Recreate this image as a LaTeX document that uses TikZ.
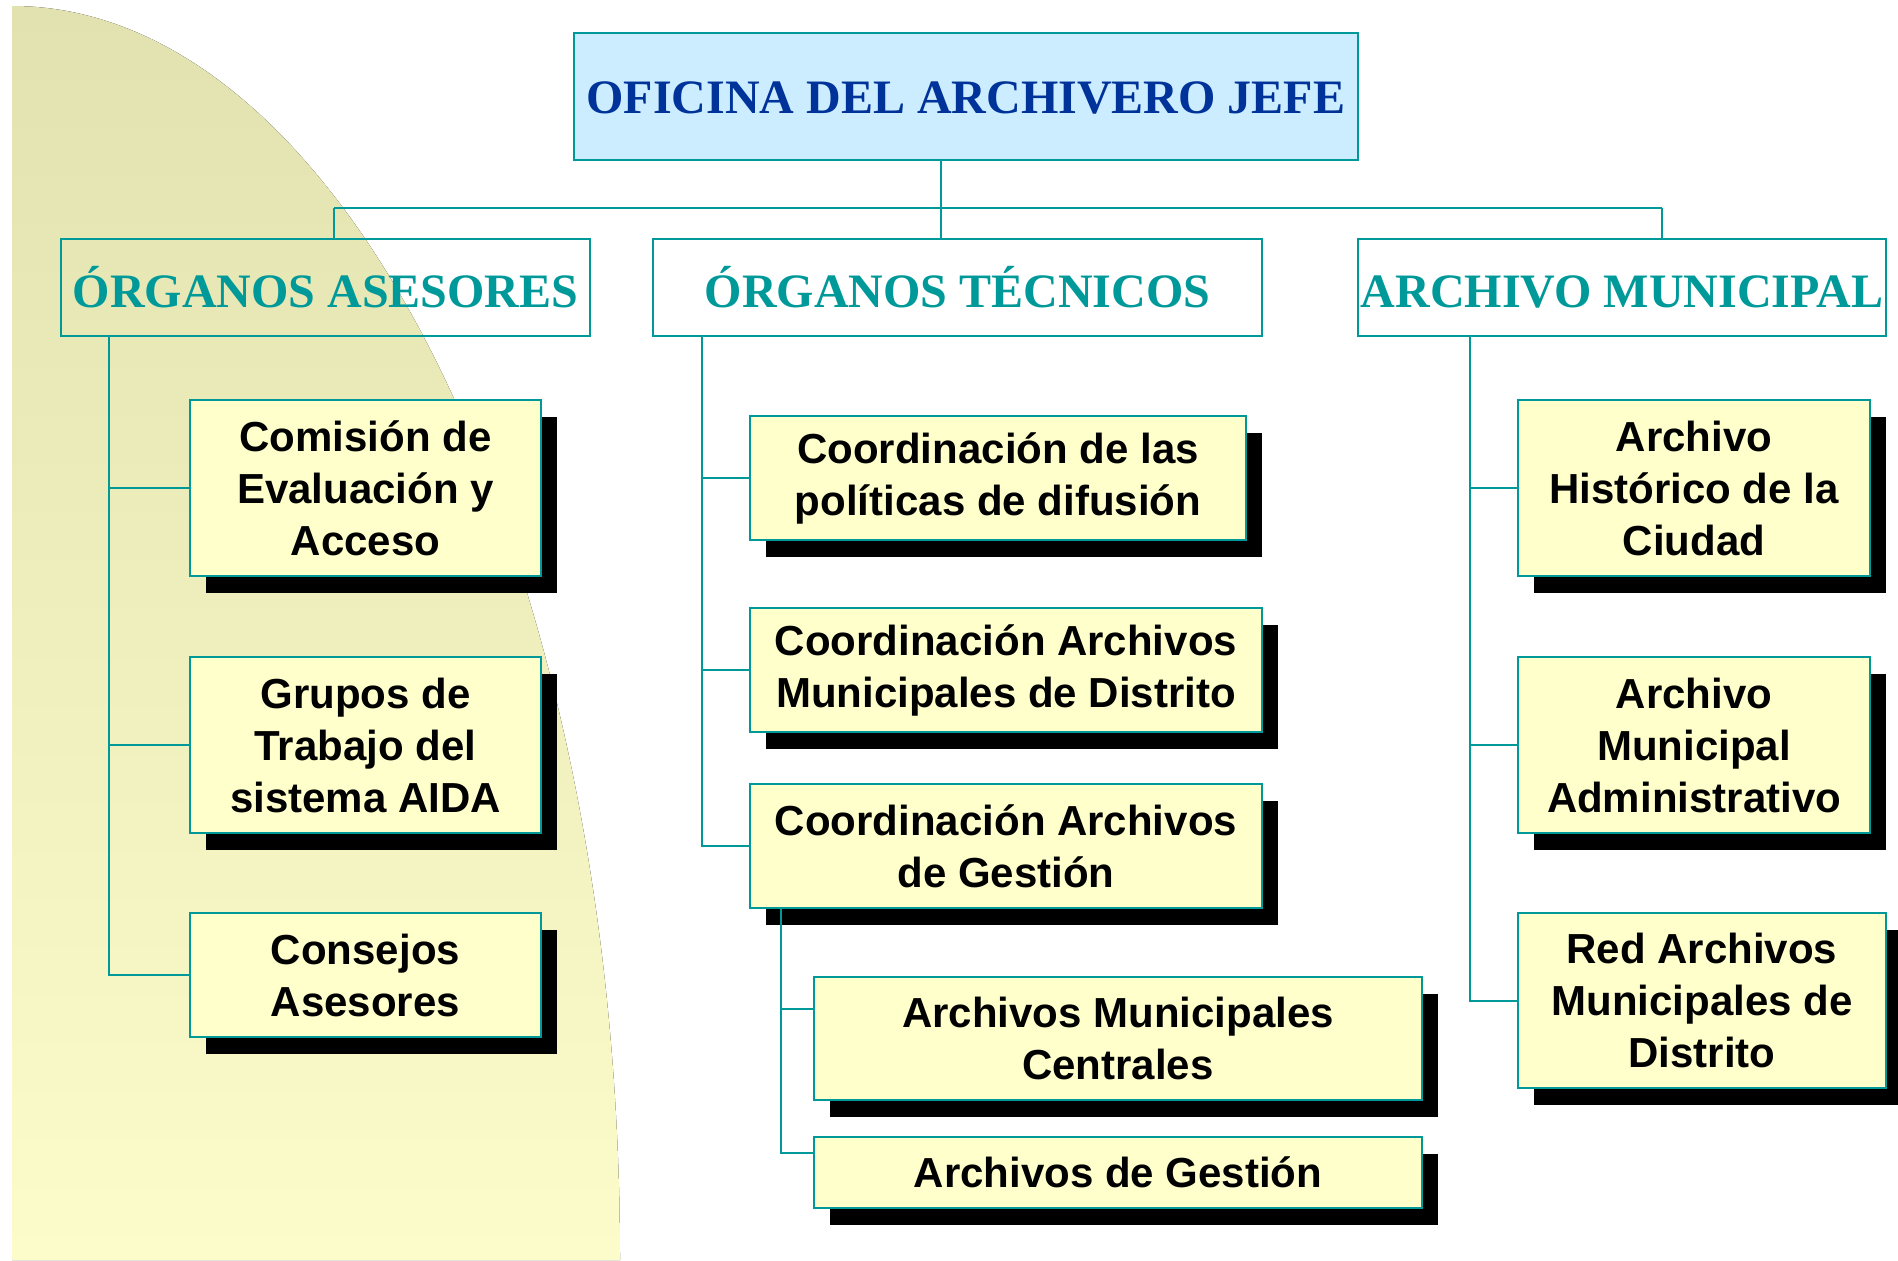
\documentclass[tikz,border=0pt]{standalone}
\usepackage{fontspec}
\setmainfont{Liberation Serif}
\newfontfamily\cajafont{Liberation Sans}
\usepackage{tikz}
\usetikzlibrary{shadows, positioning}
\usepackage{xcolor}

\definecolor{verdeazul}{RGB}{0,153,153}
\definecolor{azuloscuro}{RGB}{0,51,153}
\definecolor{celeste}{RGB}{204,236,255}
\definecolor{crema}{RGB}{255,255,204}
\definecolor{oliva}{RGB}{226,226,176}
\definecolor{amarillo}{RGB}{252,252,202}

\tikzset{
    link/.style = {verdeazul, line width=1pt},
    jefe/.style = {draw=verdeazul, line width=1pt, fill=celeste, text=azuloscuro, inner sep=0pt,
        font=\bfseries\fontsize{24}{28}\selectfont, text height=17pt, text depth=0pt},
    cabecera/.style = {draw=verdeazul, line width=1pt, text=verdeazul, inner sep=0pt,
        minimum height=48.5pt, font=\bfseries\fontsize{24}{28}\selectfont, text height=20pt, text depth=0pt},
    caja/.style = {draw=verdeazul, line width=1pt, fill=crema, align=center, inner sep=0pt,
        font=\cajafont\bfseries\fontsize{21}{26}\selectfont,
        drop shadow={shadow xshift=8pt, shadow yshift=-8.5pt, fill=black, opacity=1}}
}

\begin{document}
\begin{tikzpicture}[x=0.5pt, y=-0.5pt]
    % Parametri
    \pgfmathsetmacro{\xizq}{109}
    \pgfmathsetmacro{\xcen}{702}
    \pgfmathsetmacro{\xsub}{781}
    \pgfmathsetmacro{\xder}{1470}
    \pgfmathsetmacro{\ybus}{208}
    \useasboundingbox (0,0) rectangle (1898,1260);

    % Fondo
    \fill[top color=oliva, bottom color=amarillo] (12,1260) -- (12,6) .. controls (348,6) and (620,567) .. (620,1260) -- cycle;

    % Cajas principales
    \node[jefe, minimum width=392pt, minimum height=63.5pt] (jefe) at (966,96.5) {OFICINA DEL ARCHIVERO JEFE};
    \node[cabecera, minimum width=264.5pt] (ases) at (325.5,287.5) {ÓRGANOS ASESORES};
    \node[cabecera, minimum width=304.5pt] (tec) at (957.5,287.5) {ÓRGANOS TÉCNICOS};
    \node[cabecera, minimum width=264pt] (mun) at (1622,287.5) {ARCHIVO MUNICIPAL};

    % Organos asesores
    \node[caja, minimum width=175.5pt, minimum height=88pt] (comision) at (365.5,488) {Comisión de\\Evaluación y\\Acceso};
    \node[caja, minimum width=175.5pt, minimum height=88pt] (grupos) at (365.5,745) {Grupos de\\Trabajo del\\sistema AIDA};
    \node[caja, minimum width=175.5pt, minimum height=62pt] (consejos) at (365.5,975) {Consejos\\Asesores};

    % Organos tecnicos
    \node[caja, minimum width=248pt, minimum height=62pt] (politicas) at (998,478) {Coordinación de las\\políticas de difusión};
    \node[caja, minimum width=256pt, minimum height=62pt] (distrito) at (1006,670) {Coordinación Archivos\\Municipales de Distrito};
    \node[caja, minimum width=256pt, minimum height=62pt] (gestion) at (1006,846) {Coordinación Archivos\\de Gestión};
    \node[caja, minimum width=304pt, minimum height=61.5pt] (centrales) at (1118,1038.5) {Archivos Municipales\\Centrales};
    \node[caja, minimum width=304pt, minimum height=35.5pt] (archges) at (1118,1172.5) {Archivos de Gestión};

    % Archivo municipal
    \node[caja, minimum width=176pt, minimum height=88pt] (historico) at (1694,488) {Archivo\\Histórico de la\\Ciudad};
    \node[caja, minimum width=176pt, minimum height=88pt] (admin) at (1694,745) {Archivo\\Municipal\\Administrativo};
    \node[caja, minimum width=184pt, minimum height=87.5pt] (red) at (1702,1000.5) {Red Archivos\\Municipales de\\Distrito};

    % Lineas
    \coordinate (busL) at (334,\ybus);
    \coordinate (busC) at (941,\ybus);
    \coordinate (busR) at (1662,\ybus);
    \draw[link] (jefe.south -| busC) -- (busC);
    \draw[link] (busL) -- (busR);
    \draw[link] (busL) -- (busL |- ases.north);
    \draw[link] (busC) -- (busC |- tec.north);
    \draw[link] (busR) -- (busR |- mun.north);

    \coordinate (eL) at (\xizq,0);
    \coordinate (eC) at (\xcen,0);
    \coordinate (eS) at (\xsub,0);
    \coordinate (eR) at (\xder,0);
    \foreach \n in {comision, grupos, consejos}
        \draw[link] (ases.south -| eL) |- (\n.west);
    \foreach \n in {politicas, distrito, gestion}
        \draw[link] (tec.south -| eC) |- (\n.west);
    \draw[link] (gestion.south -| eS) |- ([yshift=15pt]centrales.west);
    \draw[link] (gestion.south -| eS) |- ([yshift=10pt]archges.west);
    \foreach \n in {historico, admin, red}
        \draw[link] (mun.south -| eR) |- (\n.west);
\end{tikzpicture}
\end{document}
